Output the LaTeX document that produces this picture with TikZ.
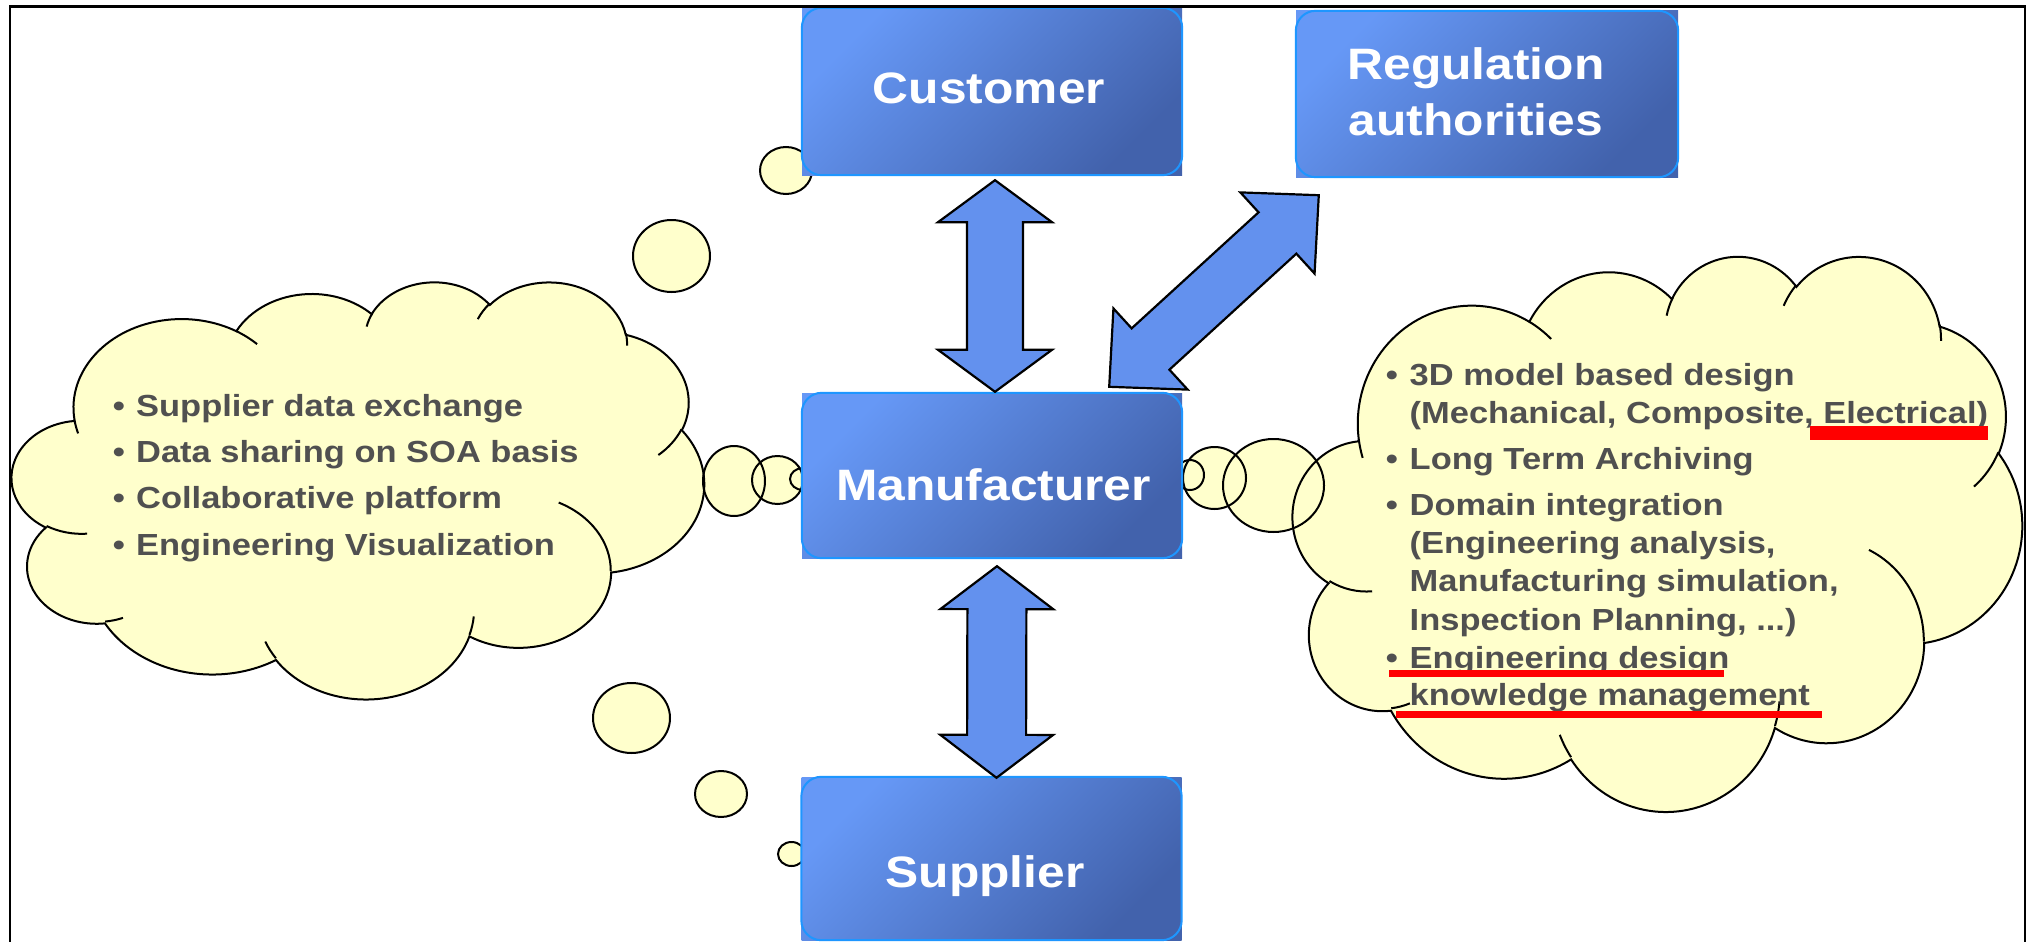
\documentclass[tikz,border=0pt]{standalone}
\usepackage{fontspec}
\setmainfont{Liberation Sans}[FakeStretch=1.13]
\usetikzlibrary{calc}

\definecolor{cloudY}{RGB}{255,255,204}
\definecolor{boxA}{RGB}{102,152,246}
\definecolor{boxB}{RGB}{66,98,172}
\definecolor{boxEdge}{RGB}{30,150,255}
\definecolor{arrowB}{RGB}{99,145,238}
\definecolor{txtG}{RGB}{80,80,80}
\definecolor{redU}{RGB}{255,0,0}

\tikzset{
  ooarc/.style n args={4}{insert path={arc[x radius=#1, y radius=#2, start angle={vp(#3,#1,#2)}, delta angle={vd(#3,#4,#1,#2)}]}},
  box/.style={rectangle, inner sep=0pt, minimum width=380, minimum height=#1, top color=boxA, bottom color=boxB, shading angle=45},
  boxedge/.style={draw=boxEdge, line width=2, rounded corners=20},
  boxtxt/.style={text=white, font=\bfseries\fontsize{44}{50}\selectfont, inner sep=0pt, anchor=base},
  cltxt/.style={text=txtG, font=\bfseries\fontsize{30.5}{36}\selectfont, inner sep=0pt, anchor=base west},
  bul/.style={text=txtG, font=\bfseries\fontsize{30.5}{36}\selectfont, inner sep=0pt, anchor=base},
  blockarrow/.style={fill=arrowB, draw=black, line width=2.2, line join=miter},
  cloudfill/.style={fill=cloudY, draw=none},
  cloudline/.style={draw=black, line width=2},
  redbar/.style={fill=redU, draw=none},
  framestyle/.style={draw=black, line width=2.5},
}

% double block arrow from #1 to #2: head length #3, head half width #4, shaft half width #5
\newcommand\dblarrow[5]{%
  \path[blockarrow] let \p1=#1, \p2=#2, \n1={atan2(\y2-\y1,\x2-\x1)}, \n2={veclen(\x2-\x1,\y2-\y1)} in
    [shift={(\p1)}, rotate=\n1]
    (0pt,0pt) -- ({#3pt},{#4pt}) -- ({#3pt},{#5pt}) -- ({\n2*1pt-#3pt},{#5pt}) -- ({\n2*1pt-#3pt},{#4pt})
    -- ({\n2*1pt},0pt) -- ({\n2*1pt-#3pt},{-#4pt}) -- ({\n2*1pt-#3pt},{-#5pt}) -- ({#3pt},{-#5pt}) -- ({#3pt},{-#4pt}) -- cycle;%
}

% PowerPoint cloud outline (path units 432 x 432) in a box at (#2,#3) of size #4 x #5
\newcommand\ppcloud[5]{%
  \pgfmathsetmacro\cldx{#4/432}%
  \pgfmathsetmacro\cldy{#5/432}%
  \begin{scope}[shift={(#2,#3)}, x=\cldx pt, y=-\cldy pt]
    \path[#1] (39.00,143.70)
      [ooarc={67.53}{91.90}{-190.487}{123.781}]
      [ooarc={53.33}{72.67}{-144.102}{89.945}]
      [ooarc={43.65}{59.45}{-145.808}{99.723}]
      [ooarc={48.57}{65.95}{-130.986}{117.242}]
      [ooarc={53.33}{72.73}{-78.709}{109.027}]
      [ooarc={67.75}{92.20}{-46.267}{130.269}]
      [ooarc={57.85}{78.67}{0.625}{114.033}]
      [ooarc={67.52}{92.15}{22.452}{115.173}]
      [ooarc={77.20}{105.43}{66.243}{75.711}]
      [ooarc={43.60}{59.18}{-274.942}{146.736}]
      [ooarc={43.45}{59.45}{-246.829}{152.519}] -- cycle;
  \end{scope}}

\newcommand\pparcs[4]{%
  \pgfmathsetmacro\cldx{#3/432}%
  \pgfmathsetmacro\cldy{#4/432}%
  \begin{scope}[shift={(#1,#2)}, x=\cldx pt, y=-\cldy pt]
    \path[cloudline]
      (46.93,261.77) [ooarc={43.45}{59.45}{86.742}{26.430}]
      (69.28,348.99) [ooarc={43.60}{59.18}{73.610}{11.447}]
      (164.78,390.90) [ooarc={67.52}{92.15}{137.624}{14.081}]
      (288.27,347.51) [ooarc={67.52}{92.15}{6.453}{15.998}]
      (341.29,229.54) [ooarc={57.85}{78.67}{-70.292}{70.917}]
      (417.98,153.54) [ooarc={53.33}{72.73}{30.318}{27.752}]
      (383.24,54.26) [ooarc={48.57}{65.95}{-13.744}{14.854}]
      (290.78,39.52) [ooarc={48.57}{65.95}{-149.181}{18.196}]
      (221.41,47.20) [ooarc={43.65}{59.45}{-163.494}{17.687}]
      (140.00,51.92) [ooarc={67.53}{91.90}{-66.707}{12.319}]
      (41.27,157.89) [ooarc={67.53}{91.90}{157.654}{11.858}];
  \end{scope}}

\begin{document}
\begin{tikzpicture}[x=1pt, y=-1pt,
  declare function={vp(\a,\w,\h)=atan2(\w*sin(\a),\h*cos(\a));
                    vd(\a,\s,\w,\h)=mod(vp(\a+\s,\w,\h)-vp(\a,\w,\h)+720,360);}]
\useasboundingbox (0,0) rectangle (2032,942);
\fill[white] (0,0) rectangle (2032,942);

% ---- clouds and bubbles: fill pass
\ppcloud{cloudfill}{12}{281}{692}{417}
\ppcloud{cloudfill}{1293}{255}{729}{555}
\foreach \cx/\cy/\rx/\ry in {671.5/256/38.5/36, 786/170.5/26/23.5,
    734/481/31/35, 777.5/480/25.5/24, 803/479/13/11,
    631.5/718/38.5/35, 721/794/26/23, 791.5/854/13.5/12,
    1273.5/485.5/50.5/46.5, 1214.5/478/31.5/31, 1190/475/14/15}
  \fill[cloudY] (\cx,\cy) ellipse[x radius=\rx, y radius=\ry];

% ---- stroke pass
\ppcloud{cloudline}{12}{281}{692}{417}
\ppcloud{cloudline}{1293}{255}{729}{555}
\pparcs{12}{281}{692}{417}
\pparcs{1293}{255}{729}{555}
\foreach \cx/\cy/\rx/\ry in {671.5/256/38.5/36, 786/170.5/26/23.5,
    734/481/31/35, 777.5/480/25.5/24, 803/479/13/11,
    631.5/718/38.5/35, 721/794/26/23, 791.5/854/13.5/12,
    1273.5/485.5/50.5/46.5, 1214.5/478/31.5/31, 1190/475/14/15}
  \draw[cloudline] (\cx,\cy) ellipse[x radius=\rx, y radius=\ry];

% ---- boxes
\node[box=167] (cust) at (992,91.5) {};
\node[box=166, minimum width=382] (reg) at (1487,94) {};
\node[box=165] (manu) at (992,475.5) {};
\node[box=163] (supp) at (991.5,858.5) {};
\foreach \b in {cust,reg,manu,supp}
  \draw[boxedge] (\b.north west) rectangle (\b.south east);

% ---- block arrows
\dblarrow{($(cust.south)+(3,5)$)}{($(manu.north)+(3,-1)$)}{42}{57}{28}
\dblarrow{($(manu.south)+(5,8)$)}{($(supp.north)+(5,1)$)}{43}{56.5}{29.5}
\dblarrow{($(manu.north east)+(-73,-6)$)}{($(reg.south west)+(23,18)$)}{56}{55}{28}

% ---- box texts
\node[boxtxt] (custT) at (989,103) {Customer};
\node[boxtxt] (regT1) at (1476,80) {Regulation};
\node[boxtxt] (regT2) at (1476,135) {authorities};
\node[boxtxt] (manuT) at (993.5,500) {Manufacturer};
\node[boxtxt] (suppT) at (985,887) {Supplier};

% ---- left cloud text
\node[bul] (lb1) at (119,416.5) {•};
\node[cltxt] (lt1) at (136,416.5) {Supplier data exchange};
\node[bul] (lb2) at (119,462.5) {•};
\node[cltxt] (lt2) at (136,462.5) {Data sharing on SOA basis};
\node[bul] (lb3) at (119,508) {•};
\node[cltxt] (lt3) at (136,508) {Collaborative platform};
\node[bul] (lb4) at (119,555) {•};
\node[cltxt] (lt4) at (136,555) {Engineering Visualization};

% ---- right cloud text
\node[bul] (rb1) at (1392,385) {•};
\node[cltxt] (rt1) at (1409.5,385) {3D model based design};
\node[cltxt] (rt2) at (1409.5,423.3) {(Mechanical, Composite, Electrical)};
\node[bul] (rb2) at (1392,469.3) {•};
\node[cltxt] (rt3) at (1409.5,469.3) {Long Term Archiving};
\node[bul] (rb3) at (1392,515) {•};
\node[cltxt] (rt4) at (1409.5,515) {Domain integration};
\node[cltxt] (rt5) at (1409.5,553.3) {(Engineering analysis,};
\node[cltxt] (rt6) at (1409.5,591.7) {Manufacturing simulation,};
\node[cltxt] (rt7) at (1409.5,630) {Inspection Planning, ...)};
\node[bul] (rb4) at (1392,668.3) {•};
\node[cltxt] (rt8) at (1409.5,668.3) {Engineering design};
\node[cltxt] (rt9) at (1409.5,705) {knowledge management};

% ---- red underlines
\fill[redbar] (1810,425.7) rectangle (1988,440);
\fill[redbar] (1389.4,670) rectangle (1724,677.3);
\fill[redbar] (1396.3,710.7) rectangle (1822.3,718.3);

% ---- frame
\draw[framestyle] (10,942) -- (10,6.7) -- (2025,6.7) -- (2025,942);
\end{tikzpicture}
\end{document}
